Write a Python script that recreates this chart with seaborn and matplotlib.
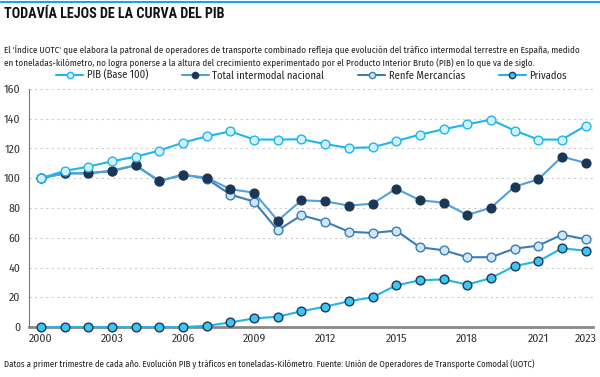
import matplotlib
matplotlib.use("Agg")
import matplotlib.pyplot as plt
from matplotlib.lines import Line2D
import pandas as pd
import seaborn as sns

years = list(range(2000, 2024))
pib = [100, 104.9, 107.8, 111.4, 114.5, 118.6, 123.9, 128.2, 131.5, 126, 126, 126.2,
       123, 120.3, 120.8, 125, 129.3, 132.9, 136.2, 139.4, 132, 126, 126, 135.3]
total = [100, 103.3, 103.3, 104.9, 108.7, 98.2, 102.2, 100.4, 92.6, 90.3, 71.5, 85.2,
         84.5, 81.6, 82.9, 93, 85.2, 83.6, 75.3, 80.2, 94.3, 99.3, 114.5, 110.3]
renfe = [100, 103.3, 103.3, 105, 108.7, 98, 102.5, 99.7, 89, 84.3, 65, 75.1,
         70.8, 64.1, 63.2, 64.8, 53.6, 51.6, 46.9, 46.9, 52.7, 54.7, 62.1, 59]
privados = [0, 0, 0, 0, 0, 0, 0, 0.8, 3.1, 5.8, 6.9, 10.6,
            13.7, 17.3, 20, 28, 31.4, 32, 28.5, 32.9, 41, 44.2, 52.9, 51.3]
xticks = [2000, 2003, 2006, 2009, 2012, 2015, 2018, 2021, 2023]
yticks = [0, 20, 40, 60, 80, 100, 120, 140, 160]

df = pd.DataFrame({"year": years, "PIB (Base 100)": pib, "Total intermodal nacional": total,
                   "Renfe Mercancías": renfe, "Privados": privados})

# line colour, marker face, marker edge
styles = {
    "Renfe Mercancías": ("#3b7db4", "#cfe6f6", "#3b7db4"),
    "Total intermodal nacional": ("#4fa3da", "#1c3656", "#1c3656"),
    "Privados": ("#1db6ee", "#3ec6f2", "#1c3656"),
    "PIB (Base 100)": ("#1db6ee", "#d2f1fc", "#1db6ee"),
}
legend_order = ["PIB (Base 100)", "Total intermodal nacional", "Renfe Mercancías", "Privados"]

sns.set_style("white")
plt.rcParams["font.family"] = ["Fira Sans Condensed", "DejaVu Sans"]

fig = plt.figure(figsize=(6, 3.77), dpi=100)
ax = fig.add_axes([0.048, 0.1326, 0.94, 0.6314])

for name, (lc, fc, ec) in styles.items():
    sns.lineplot(data=df, x="year", y=name, ax=ax, color=lc, linewidth=1.5,
                 marker="o", markersize=6.3, markerfacecolor=fc, markeredgecolor=ec,
                 markeredgewidth=1.0, clip_on=False, zorder=3)

ax.set_xlim(1999.49, 2023.3)
ax.set_ylim(0, 160)
ax.set_xticks(xticks)
ax.set_yticks(yticks)
ax.set_xlabel("")
ax.set_ylabel("")
ax.tick_params(axis="both", labelsize=8.5, colors="#333333", length=0)
ax.tick_params(axis="y", pad=6)
ax.tick_params(axis="x", pad=5)
ax.yaxis.grid(True, linestyle=(0, (2, 3)), color="#cccccc", linewidth=0.8)
ax.xaxis.grid(False)
for s in ["top", "right"]:
    ax.spines[s].set_visible(False)
ax.spines["left"].set_color("#777777")
ax.spines["left"].set_linewidth(0.8)
ax.spines["bottom"].set_color("#888888")
ax.spines["bottom"].set_linewidth(2)
ax.spines["bottom"].set_zorder(2)

handles = []
for name in legend_order:
    lc, fc, ec = styles[name]
    handles.append(Line2D([], [], color=lc, linewidth=1.5, marker="o", markersize=4.5,
                          markerfacecolor=fc, markeredgecolor=ec))
fig.legend(handles, legend_order, loc="center", bbox_to_anchor=(0.519, 0.8), ncol=4,
           frameon=False, fontsize=7.6, handlelength=2.6, columnspacing=3.2,
           handletextpad=0.3)

fig.add_artist(Line2D([0, 1], [0.995, 0.995], color="#1aa3e8", linewidth=1.5))
fig.text(0.007, 0.963, "TODAVÍA LEJOS DE LA CURVA DEL PIB", fontsize=10.2,
         fontweight="bold", color="#111111", va="center",
         family=["Roboto Condensed", "DejaVu Sans"])
fig.text(0.007, 0.851,
         "El 'Índice UOTC' que elabora la patronal de operadores de transporte combinado refleja que evolución del tráfico intermodal terrestre en España, medido\n"
         "en toneladas-kilómetro, no logra ponerse a la altura del crecimiento experimentado por el Producto Interior Bruto (PIB) en lo que va de siglo.",
         fontsize=6.5, color="#222222", va="center", linespacing=1.45)
fig.text(0.007, 0.034,
         "Datos a primer trimestre de cada año. Evolución PIB y tráficos en toneladas-Kilómetro. Fuente: Unión de Operadores de Transporte Comodal (UOTC)",
         fontsize=6.3, color="#222222", va="center")

fig.savefig("out.png", dpi=100)
